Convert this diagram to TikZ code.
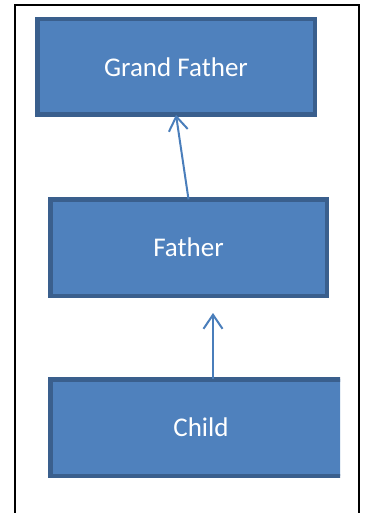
\documentclass[tikz,border=0pt]{standalone}
\usepackage{fontspec}
\setmainfont{Carlito}
\usetikzlibrary{arrows.meta}
\definecolor{boxfill}{HTML}{4F81BD}
\definecolor{boxline}{HTML}{3A5F8D}
\definecolor{linkblue}{HTML}{4A7EBB}
\tikzset{
  block/.style={rectangle, draw=boxline, fill=boxfill, line width=4.5pt,
    inner sep=0pt, outer sep=0pt, text=white, font=\fontsize{27}{32}\selectfont},
  link/.style={draw=linkblue, line width=2pt,
    -{Straight Barb[length=14pt, width=19pt, line width=2pt]}},
  frame/.style={draw=black, line width=2.2pt}
}
\begin{document}
\begin{tikzpicture}[x=1pt, y=-1pt]
  \clip (0,0) rectangle (364,513);
  \fill[white] (0,0) rectangle (364,513);
  % page frame, open at the bottom
  \draw[frame] (15,530) -- (15,5) -- (359,5) -- (359,530);
  % boxes (outer edge given by centre +/- half size)
  \node[block, minimum width=277.5pt, minimum height=95.5pt] (gf) at (176,67) {Grand Father};
  \node[block, minimum width=276.5pt, minimum height=96.5pt] (father) at (188.5,247.5) {Father};
  \begin{scope}
    \clip (0,0) rectangle (340,513);
    \node[block, minimum width=301.5pt, minimum height=96.5pt] (child) at (201,427.5) {Child};
  \end{scope}
  % connectors
  \coordinate (childtip) at (213,313);
  \draw[link] (father.north) -- (gf.south);
  \draw[link] (child.north -| childtip) -- (childtip);
\end{tikzpicture}
\end{document}
